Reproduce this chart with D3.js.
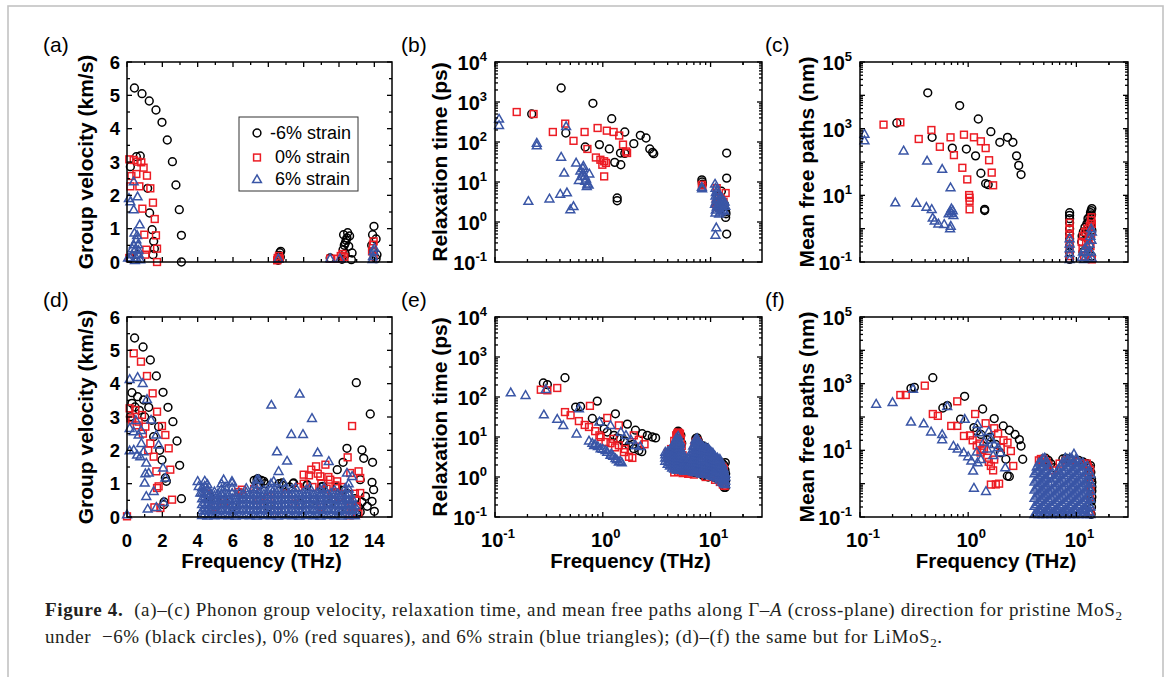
<!DOCTYPE html>
<html><head><meta charset="utf-8">
<script src="https://cdn.jsdelivr.net/npm/d3@7"></script>
<style>body{margin:0;background:#fff}svg{display:block}</style>
</head><body>
<svg id="chart" width="1167" height="677"></svg>
<script>
// ---------------- DATA ----------------
const seriesNames = ["-6% strain", " 0% strain", " 6% strain"];
const xTicksLin = [0,2,4,6,8,10,12,14];
const yTicksLin = [0,1,2,3,4,5,6];
const logExpTau = [-1,0,1,2,3,4];
const logExpMfp = [-1,1,3,5];
const logExpFreq = [-1,0,1];

// (a) group velocity, MoS2 [THz, km/s]
const a_m6 = [[0.42,5.22],[0.85,5.05],[1.26,4.83],[1.64,4.56],[1.98,4.19],[2.28,3.66],[2.57,3.01],[2.77,2.31],[2.96,1.57],[3.08,0.80],[3.08,0.0],
[0.53,3.16],[0.75,3.18],[0.19,2.86],[1.17,2.21],[1.28,1.47],[1.42,0.97],[1.51,0.62],[1.55,0.40],[1.47,0.22],[0.57,0.22],[0.19,0.12],
[8.55,0.05],[8.6,0.12],[8.62,0.2],[8.65,0.28],[8.7,0.32],[8.68,0.15],[11.5,0.12],
[12.17,0.08],[12.26,0.82],[12.45,0.72],[12.36,0.57],[12.55,0.47],[12.74,0.27],[12.23,0.37],[12.7,0.07],[12.49,0.88],[12.4,0.65],[12.3,0.5],[12.6,0.78],[12.35,0.25],
[13.98,1.07],[13.9,0.82],[14.1,0.69],[14.15,0.22],[14.1,0.1],[13.96,0.32],[13.85,0.5]];
const a_0 = [[0.13,3.08],[0.38,3.06],[0.6,3.01],[0.81,2.99],[0.94,2.83],[1.13,2.59],[0.53,2.64],[0.25,2.58],[0.19,2.27],[0.7,2.27],[1.32,2.21],[1.47,1.78],[0.87,1.6],[1.57,1.29],[1.64,0.8],[0.98,0.82],[1.09,0.37],[1.7,0.4],[1.7,0.0],[1.04,0.22],[0.13,0.12],
[8.5,0.05],[8.53,0.12],[8.6,0.18],[8.65,0.1],[11.5,0.1],[11.95,0.1],[12.1,0.18],[12.2,0.24],[12.3,0.15],
[13.92,0.52],[13.96,0.62],[13.87,0.32],[13.96,0.17]];
const a_p6 = [[0.38,2.41],[0.6,1.96],[0.11,1.91],[0.19,1.81],[0.38,1.57],[0.72,1.12],[0.42,0.87],[0.53,0.67],[0.62,0.52],[0.47,0.37],[0.68,0.22],[0.28,0.22],[0.19,0.12],[0.06,0.12],[0.53,0.12],[0.75,0.07],[0.38,0.52],[0.57,0.8],[0.45,0.05],[0.3,0.4],[0.65,0.35],
[8.57,0.1],[11.5,0.1],[12.06,0.1],[13.96,0.32],[13.92,0.17],[14.0,0.42],[13.9,0.08]];

// (b) relaxation time, MoS2 [THz, ps]
const b_m6 = [[0.411,2240],[0.219,501],[0.454,168],[0.81,926],[1.21,383],[1.6,178],[2.23,147],[2.52,126],[1.94,91],[2.73,67],[2.97,51],[0.93,86],[1.15,67],[0.687,75],[1.46,53],[1.29,31],[1.47,27],[1.36,4.0],[1.36,3.4],[1.6,52],[2.9,55],
[8.3,11.3],[8.35,10],[8.4,8.8],[14.1,53],[14.1,12.5],[13.8,1.3],[14.1,0.5],[12.6,5.9],[13.8,1.8],[13.4,2.8],[13.9,1.6],[12.0,4.5],[11.5,3.0]];
const b_0 = [[0.159,562],[0.228,501],[0.344,178],[0.448,288],[0.535,107],[0.678,178],[0.72,67],[0.895,224],[1.09,192],[1.26,178],[1.42,145],[1.54,86],[1.68,53],[1.65,58],[0.863,41],[0.95,36],[1.03,33],[0.99,27],[1.07,30],[1.03,13.8],
[8.3,8.5],[8.4,7.6],[11.4,7.0],[12.4,4.0],[13.8,5.3],[11.6,2.5],[11.2,2.8],[11.9,2.3],[13.2,3.2]];
const b_p6 = [[0.109,376],[0.109,261],[0.244,94],[0.244,81],[0.457,245],[0.411,42],[0.438,16.8],[0.566,30],[0.654,22],[0.654,17],[0.64,13.8],[0.687,10.5],[0.71,7.8],[0.62,19],[0.68,14],[0.7,12],[0.72,9],[0.66,25],[0.75,16],[0.74,8.5],[0.6,11],
[0.204,3.3],[0.32,3.8],[0.403,5.0],[0.465,5.4],[0.5,2.04],[0.535,2.45],[8.3,7.4],[8.35,6.8],
[11.0,8.9],[11.1,7.0],[11.2,5.5],[11.1,4.5],[11.3,3.8],[11.2,3.2],[11.0,2.8],[11.4,2.4],[11.2,2.0],[11.1,1.7],[11.5,6.2],[11.6,4.8],[11.8,3.5],[12.0,2.9],[12.2,2.2],[12.5,3.0],[12.7,4.0],[12.9,2.6],[13.1,3.4],[13.3,2.8],[13.5,3.2],[13.7,2.5],[13.4,1.9],[12.0,1.6],[11.7,2.6],[11.3,0.72],[11.1,0.47],[12.4,1.8],[13.0,2.0]];

// (c) mean free path, MoS2 [THz, nm]
const c_m6 = [[0.423,11900],[0.834,4940],[1.24,1950],[0.219,1480],[1.62,813],[2.31,550],[2.59,389],[1.96,389],[0.464,550],[0.713,261],[0.962,245],[1.17,153],[2.8,153],[2.93,79],[3.08,42],[1.31,46],[1.45,22.6],[1.53,21],[1.42,3.8],[1.42,3.5],
[8.66,3.0],[8.66,2.5],[8.66,2.0],[8.66,1.5],[8.66,1.0],[8.66,0.7],[8.66,0.5],[8.66,0.3],[8.66,0.2],[8.66,0.12],
[13.9,4.0],[13.7,3.5],[13.5,3.0],[13.8,2.6],[13.3,2.3],[12.8,2.0],[13.0,1.6],[12.5,1.4],[12.0,1.1],[11.6,0.8],[11.3,0.6],[11.2,0.4],[12.2,0.7],[13.6,1.4],[13.9,0.9],[12.7,0.5],[13.2,0.3],[11.5,0.2],[13.8,0.15]];
const c_0 = [[0.165,1320],[0.236,1550],[0.349,490],[0.457,912],[0.547,286],[0.687,550],[0.738,161],[0.914,660],[1.13,550],[1.31,417],[1.45,261],[1.56,113],[1.65,48],[1.7,20],[0.883,67],[0.98,30],[1.02,10.2],[1.03,8.5],[1.03,6.8],[1.03,3.8],
[8.66,1.5],[8.66,1.0],[8.66,0.7],[8.66,0.5],[8.66,0.35],[8.66,0.25],[8.66,0.15],
[13.8,2.2],[13.6,1.8],[13.9,1.4],[13.3,1.2],[12.6,1.0],[12.0,0.8],[11.5,0.6],[11.2,0.4],[11.4,0.25],[12.3,0.35],[13.0,0.5],[13.7,0.7],[12.8,0.2],[13.5,0.3],[11.8,0.15],[13.9,0.12]];
const c_p6 = [[0.11,690],[0.11,435],[0.253,217],[0.417,108],[0.575,61],[0.687,17],[0.212,6.0],[0.332,5.8],[0.411,4.4],[0.46,3.8],[0.47,2.1],[0.49,1.7],[0.53,1.4],[0.6,1.35],[0.69,1.2],[0.68,1.0],[0.687,3.3],[0.7,4.0],[0.72,3.5],[0.66,2.8],[0.73,2.5],[0.7,2.9],
[8.66,0.5],[8.66,0.35],[8.66,0.25],[8.66,0.18],[8.66,0.12],
[13.7,1.0],[13.9,0.8],[13.5,0.6],[13.8,0.45],[13.2,0.35],[12.5,0.3],[12.0,0.25],[11.5,0.2],[11.2,0.14],[12.8,0.2],[13.6,0.2],[13.0,0.13],[11.8,0.12],[13.9,0.13]];

// (d) group velocity, LiMoS2 [THz, km/s]
const d_m6 = [[0.43,5.37],[0.91,5.1],[1.32,4.71],[1.66,4.23],[2.04,3.74],[2.32,3.29],[2.6,2.86],[2.83,2.28],[2.98,1.55],[3.08,0.55],[0.28,3.73],[0.6,3.61],[0.94,3.51],[1.23,3.29],[0.28,3.41],[0.19,3.01],[1.79,2.71],[1.98,1.71],[2.17,1.17],[2.23,1.07],[2.08,0.37],[1.51,2.41],[0.45,3.3],[0.7,3.2],[1.0,3.0],[1.4,2.9],[1.85,2.0],[2.1,0.45],
[7.36,1.12],[7.74,1.07],[7.55,0.97],[8.77,1.02],[9.43,1.02],[10.2,0.97],[11.1,0.92],
[7.2,1.1],[7.4,1.15],[7.6,1.1],[7.5,0.95],[7.8,1.0],[8.6,1.0],[8.8,0.95],[9.4,1.0],[9.2,0.9],[10.2,0.95],[11.0,0.9],[11.9,0.9],[12.2,0.8],[12.5,0.7],[12.9,0.55],[13.1,0.3],[13.3,0.45],[13.2,0.15],[13.0,0.1],[6.5,0.7],[5.5,0.5],[4.7,0.6],[6.0,0.3],[8.0,0.3],[9.8,0.4],[10.6,0.5],[11.5,0.4],[12.0,0.2],
[12.98,4.03],[13.77,3.09],[12.23,1.64],[12.45,2.06],[13.3,2.01],[13.4,1.76],[13.9,1.64],[13.87,1.04],[13.96,0.82],[13.87,0.47],[14.0,0.17],[13.5,0.62],[13.6,0.32],[13.2,1.12],[11.9,1.42]];
const d_0 = [[0.38,4.91],[0.79,4.66],[1.13,4.23],[1.45,3.71],[1.7,3.16],[0.15,3.26],[0.47,3.21],[0.19,2.96],[0.66,2.86],[0.85,3.06],[1.04,2.71],[1.32,2.21],[1.51,1.81],[1.66,1.37],[1.7,0.87],[1.79,0.92],[1.98,2.73],[2.17,2.46],[2.36,2.06],[2.45,1.42],[2.55,0.52],[1.89,0.27],[1.55,0.29],[0.0,0.02],[0.3,2.9],[0.55,2.75],[0.9,2.5],[1.2,2.0],
[12.74,2.73],[12.49,1.79],[12.64,1.32],[13.11,1.37],[13.2,1.17],[13.2,0.72],[13.0,0.32],[12.74,0.12],[10.0,1.27],[10.43,1.42],[10.7,1.52],[11.23,1.57],[10.94,1.22],[11.5,1.12],[11.9,1.07],
[4.5,0.7],[5.0,0.3],[6.3,0.75],[6.5,0.82],[7.2,0.84],[8.0,0.6],[9.0,0.7],[9.7,0.9],[10.0,1.0],[10.3,1.25],[10.5,0.9],[11.0,1.0],[11.3,0.85],[11.6,0.7],[11.8,0.95],[12.0,0.6],[12.2,0.9],[12.4,0.5],[12.7,0.3],[12.9,0.7],[13.1,0.1],[13.0,0.5],[12.6,0.05],[11.0,0.3],[9.5,0.4],[8.5,0.2],[7.5,0.5],[5.5,0.4],[10.8,1.3],[11.4,1.2]];
const d_p6 = [[0.15,4.13],[0.6,4.19],[0.89,4.01],[1.13,3.53],[1.36,2.91],[1.66,2.46],[1.79,2.16],[2.04,1.47],[2.17,1.17],[0.15,2.66],[0.38,2.56],[0.66,2.46],[0.81,2.21],[0.94,1.96],[1.09,1.62],[1.23,1.32],[1.0,1.02],[1.09,0.62],[1.17,0.24],[0.15,1.99],[0.38,2.01],[0.57,1.86],[0.75,1.81],[1.04,1.3],[1.51,0.77],[1.66,0.29],[2.08,0.44],[0.0,0.07],[0.5,2.9],[0.8,2.6],
[8.17,3.36],[9.77,3.69],[10.47,2.96],[9.3,2.48],[9.96,2.48],[8.49,1.96],[9.06,1.68],[10.79,1.93],[8.58,1.37],[11.42,1.67],[12.45,1.32],[12.74,1.22],
[4.0,1.07],[4.06,0.92],[4.15,0.72],[5.47,1.12],[5.94,1.07],[7.45,1.12],[8.3,1.07],[8.87,1.02]];
// dense optical band of (d), 6% strain: [THz, [km/s ...]]
const d_p6_band = [
 [4.25,[0.05,0.2,0.38,0.55,0.72,0.88]],[4.4,[0.1,0.27,0.44,0.6,0.77,0.93,1.08]],[4.55,[0.03,0.18,0.35,0.52,0.68,0.84,0.98]],
 [4.75,[0.08,0.24,0.4,0.56,0.7]],[4.95,[0.04,0.19,0.34,0.5,0.64,0.76]],[5.15,[0.09,0.25,0.41,0.57,0.7]],
 [5.35,[0.05,0.2,0.36,0.52,0.68,0.84,1.0]],[5.55,[0.1,0.26,0.42,0.58,0.74,0.9]],[5.75,[0.04,0.2,0.36,0.52,0.66]],
 [5.95,[0.08,0.24,0.4,0.56,0.72,0.88,1.02]],[6.15,[0.03,0.19,0.35,0.5,0.64]],[6.35,[0.09,0.25,0.41,0.57,0.72]],
 [6.55,[0.05,0.21,0.37,0.52,0.68]],[6.75,[0.1,0.26,0.42,0.58,0.74,0.86]],[6.95,[0.04,0.2,0.36,0.52,0.66]],
 [7.15,[0.08,0.24,0.4,0.56,0.72,0.88]],[7.35,[0.03,0.19,0.35,0.5,0.66,0.82,0.98,1.12]],[7.55,[0.09,0.25,0.41,0.57,0.72]],
 [7.75,[0.05,0.21,0.37,0.52,0.68,0.8]],[7.95,[0.1,0.26,0.42,0.58,0.74]],[8.15,[0.04,0.2,0.36,0.52,0.68,0.84,1.0]],
 [8.35,[0.08,0.24,0.4,0.56,0.72,0.86]],[8.55,[0.03,0.19,0.35,0.5,0.66,0.8]],[8.75,[0.09,0.25,0.41,0.57,0.72]],
 [8.95,[0.05,0.21,0.37,0.52,0.68,0.84]],[9.15,[0.1,0.26,0.42,0.58,0.72]],[9.35,[0.04,0.2,0.36,0.52,0.68,0.84]],
 [9.55,[0.08,0.24,0.4,0.56,0.72,0.88]],[9.75,[0.03,0.19,0.35,0.5,0.66]],[9.95,[0.09,0.25,0.41,0.57,0.72]],
 [10.15,[0.05,0.21,0.37,0.52,0.68,0.82]],[10.35,[0.1,0.26,0.42,0.58,0.74,0.88]],[10.55,[0.04,0.2,0.36,0.52,0.66]],
 [10.75,[0.08,0.24,0.4,0.56,0.72]],[10.95,[0.03,0.19,0.35,0.5,0.66,0.82]],[11.15,[0.09,0.25,0.41,0.57,0.72,0.88]],
 [11.35,[0.05,0.21,0.37,0.52,0.68]],[11.55,[0.1,0.26,0.42,0.58,0.72]],[11.75,[0.04,0.2,0.36,0.52,0.66,0.8]],
 [11.95,[0.08,0.24,0.4,0.56,0.7]],[12.15,[0.03,0.19,0.35,0.5,0.64]],[12.35,[0.09,0.25,0.41,0.57,0.72,0.86]],
 [12.55,[0.05,0.21,0.37,0.52,0.68,0.84,1.0]],[12.75,[0.1,0.26,0.42,0.56]],[12.9,[0.04,0.2,0.34]]];

// (e) relaxation time, LiMoS2 [THz, ps]
const e_m6 = [[0.281,224],[0.306,204],[0.446,303],[0.56,56],[0.622,58],[0.889,79],[0.8,29],[1.31,38],[0.955,24],[1.69,21],[1.03,16],[2.01,14.8],[2.32,12.1],[2.59,11],[2.88,10],[3.09,9.5],[1.1,13.3],[1.27,11],[1.36,9.5],[1.57,7.5],[1.75,6.2],[1.94,5.1],[2.16,4.6],[2.3,4.3],[1.45,9],[1.6,8],[1.9,6.5],
[4.9,12.5],[5.1,13.0],[5.0,14.0],[5.3,11.0],[5.4,7.0],[7.3,9.2],[7.5,9.5],[7.4,8.5],[7.7,8.0],[8.0,6.5],[8.5,6.0],[9.0,5.5],[9.5,4.5],[10.0,4.0],[11.0,3.0],[12.0,2.5],[12.8,2.2],[13.3,2.0],[13.6,1.5],[13.7,1.0],[13.8,0.8],[13.8,1.2],[13.6,0.6],[13.7,0.55],[13.4,0.55],[13.0,0.7],[12.5,0.8],[6.0,1.4],[7.0,1.3],[8.5,1.1],[9.5,1.0],[10.5,1.0],[11.5,0.9],[4.5,3.0],[13.7,2.3]];
const e_0 = [[0.266,152],[0.306,147],[0.378,168],[0.446,42],[0.503,35],[0.76,60],[0.745,17.8],[0.93,11],[1.1,30],[0.955,10],[1.06,7.5],[1.18,7.0],[1.41,19.5],[1.41,6.2],[1.57,4.2],[1.75,3.2],[1.88,3.0],[1.94,11],[2.16,8.5],[2.44,6.6],[0.6,25],[0.68,20],[0.85,14],[1.25,9],[1.6,5],[1.3,5.5],
[4.0,4.0],[4.3,5.0],[4.6,8.0],[4.8,11.0],[5.0,13.0],[5.2,12.0],[4.9,12.0],[5.1,12.5],[5.0,11.0],[5.3,9.0],[5.4,6.0],[5.5,3.5],[5.6,2.0],[5.8,1.3],[6.0,1.6],[6.3,1.3],[6.6,1.5],[6.9,3.0],[7.1,6.0],[7.3,7.5],[7.5,8.0],[7.7,7.0],[8.0,5.0],[8.3,3.5],[8.6,1.3],[9.0,4.5],[9.3,1.2],[9.6,3.8],[10.0,1.2],[10.4,3.0],[10.8,1.5],[11.2,2.5],[11.6,1.3],[12.0,2.2],[12.4,1.0],[12.8,1.8],[13.1,0.8],[13.3,1.6],[13.5,0.7],[4.9,1.5],[8.8,1.2],
[4.6,1.3],[5.0,1.35],[5.5,1.25],[6.2,1.2],[7.0,1.15],[9.0,1.0],[11.0,0.85],[12.2,0.75],[13.0,0.65],[13.5,0.6]];
const e_p6 = [[0.14,128],[0.192,110],[0.296,155],[0.284,36],[0.378,28],[0.43,19.5],[0.571,12],[0.601,51],[0.745,8],[0.83,6.2],[0.93,24],[0.955,5.1],[1.06,4.6],[1.18,19.5],[1.18,3.5],[1.31,2.9],[1.41,2.4],[1.47,13.3],[1.64,11],[1.82,8.5],[2.01,6.2],[2.23,5.8],[0.8,7],[0.85,6.5],[0.9,5.8],[1.0,5.0],[1.1,4.2],[1.2,3.8],[1.25,3.3],[1.35,2.7],[1.45,2.5],[1.5,2.3]];
// dense optical blob of (e), 6% strain: [THz, [ps ...]]
const e_p6_blob = [
 [3.8,[2.5,3.0,3.6,4.2]],[4.0,[2.1,2.5,3.0,3.6,4.3]],[4.2,[1.9,2.3,2.8,3.3,4.0,4.8]],
 [4.4,[1.7,2.0,2.4,2.9,3.5,4.2,5.0,5.8]],[4.6,[1.6,1.9,2.3,2.8,3.3,4.0,4.8,5.8,7.0]],
 [4.8,[1.5,1.8,2.2,2.6,3.1,3.7,4.5,5.4,6.5,7.8,9.2]],[5.0,[1.5,1.8,2.1,2.5,3.0,3.6,4.3,5.2,6.2,7.4,8.8,10.5]],
 [5.2,[1.5,1.8,2.2,2.6,3.1,3.8,4.5,5.4,6.5,7.6]],[5.4,[1.5,1.8,2.1,2.6,3.1,3.7,4.4]],
 [5.7,[1.4,1.7,2.0,2.4,2.9]],[6.0,[1.4,1.7,2.0,2.5]],[6.3,[1.4,1.7,2.0,2.4,2.9]],
 [6.6,[1.4,1.7,2.0,2.4,2.9,3.5,4.2]],[6.9,[1.35,1.6,1.9,2.3,2.8,3.4,4.1,5.0,6.0]],
 [7.2,[1.3,1.6,1.9,2.3,2.8,3.4,4.1,5.0,6.0,7.2,8.5]],[7.5,[1.3,1.6,1.9,2.3,2.8,3.4,4.1,5.0,6.0,7.2,8.5,9.2]],
 [7.8,[1.3,1.55,1.9,2.3,2.8,3.4,4.1,5.0,6.0,7.2]],[8.2,[1.2,1.5,1.8,2.2,2.7,3.3,4.0,4.8,5.8,6.5]],
 [8.6,[1.2,1.5,1.8,2.2,2.7,3.3,4.0,4.8,5.6]],[9.0,[1.2,1.45,1.8,2.2,2.7,3.3,4.0,4.8,5.5]],
 [9.5,[1.15,1.4,1.7,2.1,2.6,3.2,3.9,4.7,5.2]],[10.0,[1.1,1.35,1.65,2.0,2.5,3.0,3.7,4.4]],
 [10.5,[1.05,1.3,1.6,1.95,2.4,2.9,3.5,4.0]],[11.0,[1.0,1.25,1.55,1.9,2.3,2.8,3.3]],
 [11.6,[0.95,1.2,1.45,1.8,2.2,2.6,3.0]],[12.2,[0.85,1.05,1.3,1.6,2.0,2.4,2.8]],
 [12.8,[0.75,0.95,1.15,1.4,1.75,2.1]],[13.3,[0.7,0.85,1.05,1.3,1.6]],[13.7,[0.65,0.8,1.0,1.2]]];

// (f) mean free path, LiMoS2 [THz, nm]
const f_m6 = [[0.296,724],[0.318,776],[0.471,1510],[0.583,186],[0.641,219],[0.927,417],[1.36,174],[0.851,86],[1.74,90],[2.11,54],[2.4,40],[2.71,30],[2.97,21],[3.08,13.5],[1.13,48],[1.31,30],[1.5,21],[1.8,15],[1.98,8.5],[3.19,5.4],[2.23,5.4],[2.3,1.7],[2.4,1.65],[1.6,25],[1.2,38],
[4.9,5.5],[5.2,5.8],[5.5,5.0],[5.8,4.0],[7.5,5.5],[8.0,5.8],[8.5,5.5],[9.0,5.2],[10.5,5.0],[11.5,4.5],[12.5,4.0],[13.3,3.0],[13.6,2.2],[13.8,1.4],[13.9,0.8],[13.9,0.4],[13.8,0.2],[13.7,0.12],[6.2,3.0],[13.5,3.5],[13.9,0.6],[13.9,1.1],[13.8,0.3]];
const f_0 = [[0.236,457],[0.265,457],[0.397,871],[0.471,123],[0.524,108],[0.792,295],[1.16,123],[0.697,54],[0.792,54],[0.914,27],[1.04,28],[1.28,16],[1.45,65],[1.74,46],[1.89,32],[2.12,20],[2.31,17],[2.48,9.5],[2.61,3.4],[1.62,0.94],[1.8,0.95],[1.93,1.0],[1.62,3.4],[1.74,5.3],[1.3,8.6],[1.4,11],[1.1,20],[1.5,6],[1.2,14],[1.35,10],[1.55,4.5],[1.7,2.5],[2.0,12],
[4.5,5.0],[4.7,5.5],[5.0,5.5],[5.3,4.5],[5.5,3.5],[12.5,4.0],[12.8,3.2],[13.0,2.0],[13.3,1.0],[13.4,0.4],[13.5,0.15],[6.0,2.5],[11.5,4.0],[10.0,4.5],[9.0,5.0],[8.0,5.0],[7.0,4.0],[13.4,2.6],[13.5,0.7]];
const f_p6 = [[0.141,244],[0.2,275],[0.309,690],[0.296,71],[0.388,63],[0.454,36],[0.575,30],[0.575,21],[0.64,209],[0.73,13.4],[0.93,86],[0.91,8.5],[1.07,4.8],[1.11,2.4],[1.13,0.74],[1.46,0.59],[1.22,60],[1.27,34],[1.55,37],[1.62,21],[1.74,15],[1.89,12],[1.99,8.5],[2.2,3.0],[1.31,5.3],[1.22,4.3],[0.8,11],[1.0,6.5],[1.4,18],[1.5,11],[1.7,7],[1.2,9]];
// dense optical blob of (f), 6% strain: [THz, [nm ...]]
const f_p6_blob = [
 [4.1,[0.12,0.21,0.37,0.65,1.13,2.0]],[4.3,[0.14,0.24,0.43,0.75,1.3,2.3,3.2]],
 [4.5,[0.12,0.16,0.28,0.49,0.86,1.5,2.6,4.2]],[4.7,[0.14,0.18,0.32,0.57,1.0,1.75,3.0,4.5]],
 [4.9,[0.12,0.21,0.37,0.65,1.13,2.0,3.4,5.6]],[5.1,[0.14,0.24,0.43,0.75,1.3,2.3,4.0,5.9]],
 [5.3,[0.12,0.16,0.28,0.49,0.86,1.5,2.6,4.5]],[5.6,[0.14,0.18,0.32,0.57,1.0,1.75,3.2]],
 [5.9,[0.12,0.21,0.37,0.65,1.13,1.9]],[6.2,[0.14,0.24,0.43,0.75,1.4]],
 [6.5,[0.12,0.16,0.28,0.49,0.86,1.5,2.0]],[6.8,[0.14,0.18,0.32,0.57,1.0,1.75,2.6]],
 [7.1,[0.12,0.21,0.37,0.65,1.13,2.0,3.4]],[7.5,[0.14,0.24,0.43,0.75,1.3,2.3,4.2]],
 [7.9,[0.12,0.16,0.28,0.49,0.86,1.5,2.6,4.5,5.9]],[8.3,[0.14,0.18,0.32,0.57,1.0,1.75,3.0,5.2]],
 [8.7,[0.12,0.21,0.37,0.65,1.13,2.0,3.4,5.9]],[9.1,[0.14,0.24,0.43,0.75,1.3,2.3,4.0,5.6]],
 [9.5,[0.12,0.16,0.28,0.49,0.86,1.5,2.6,4.5,7.8]],[9.9,[0.14,0.18,0.32,0.57,1.0,1.75,3.0,5.5]],
 [10.4,[0.12,0.21,0.37,0.65,1.13,2.0,3.4,4.5]],[10.9,[0.14,0.24,0.43,0.75,1.3,2.3,4.0]],
 [11.4,[0.12,0.16,0.28,0.49,0.86,1.5,2.6,4.3]],[12.0,[0.14,0.18,0.32,0.57,1.0,1.75,3.2]],
 [12.6,[0.12,0.21,0.37,0.65,1.13,2.0,3.4]],[13.1,[0.14,0.24,0.43,0.75,1.3,2.4]],[13.5,[0.12,0.2,0.35,0.6,1.05,1.9]]];

// ---------------- DRAWING ----------------
const expand = cols => cols.flatMap(([f, vs]) => vs.map(v => [f, v]));
const FONT = "'Liberation Sans', Arial, sans-serif";
const COLORS = ["#000000", "#ec1c24", "#3a56a6"];
const svg = d3.select("#chart");
svg.append("rect").attr("width",1167).attr("height",677).attr("fill","#fff");
svg.append("rect").attr("x",8).attr("y",6).attr("width",1155).attr("height",720)
  .attr("fill","none").attr("stroke","#c2c2c2").attr("stroke-width",1.6);

const panels = [
  {lab:"(a)", lx:43, ly:52, data:[a_m6,a_0,a_p6], L:127,R:392,T:62,B:262, log:false, ydom:[0,6], ytitle:"Group velocity (km/s)", xlabels:false, tx:85},
  {lab:"(b)", lx:401, ly:52, data:[b_m6,b_0,b_p6], L:495,R:762,T:62,B:262, log:true, ydom:[0.1,1e4], yexp:logExpTau, ytitle:"Relaxation time (ps)", xlabels:false, tx:439},
  {lab:"(c)", lx:765, ly:52, data:[c_m6,c_0,c_p6], L:860,R:1128,T:62,B:262, log:true, ydom:[0.1,1e5], yexp:logExpMfp, ytitle:"Mean free paths (nm)", xlabels:false, tx:806},
  {lab:"(d)", lx:43, ly:307, data:[d_m6,d_0,d_p6.concat(expand(d_p6_band))], L:127,R:392,T:317,B:517, log:false, ydom:[0,6], ytitle:"Group velocity (km/s)", xlabels:true, tx:85},
  {lab:"(e)", lx:401, ly:307, data:[e_m6,e_0,e_p6.concat(expand(e_p6_blob))], L:495,R:762,T:317,B:517, log:true, ydom:[0.1,1e4], yexp:logExpTau, ytitle:"Relaxation time (ps)", xlabels:true, tx:439},
  {lab:"(f)", lx:765, ly:307, data:[f_m6,f_0,f_p6.concat(expand(f_p6_blob))], L:860,R:1128,T:317,B:517, log:true, ydom:[0.1,1e5], yexp:logExpMfp, ytitle:"Mean free paths (nm)", xlabels:true, tx:806}
];

function marker(g, type, x, y, color) {
  if (type === 0) {
    g.append("circle").attr("cx",x).attr("cy",y).attr("r",3.9)
      .attr("fill","none").attr("stroke",color).attr("stroke-width",1.5);
  } else if (type === 1) {
    g.append("rect").attr("x",x-3.4).attr("y",y-3.4).attr("width",6.8).attr("height",6.8)
      .attr("fill","none").attr("stroke",color).attr("stroke-width",1.5);
  } else {
    g.append("path").attr("transform",`translate(${x},${y})`)
      .attr("d","M0,-4.6L4.4,3.1L-4.4,3.1Z")
      .attr("fill","none").attr("stroke",color).attr("stroke-width",1.5);
  }
}

function logLabel(g, x, y, exp, anchor) {
  const t = g.append("text").attr("x",x).attr("y",y).attr("text-anchor",anchor)
    .attr("font-family",FONT).attr("font-weight","bold").attr("font-size",20).attr("fill","#000");
  t.append("tspan").text("10");
  t.append("tspan").attr("dy",-9).attr("font-size",13).text(String(exp));
}

panels.forEach(p => {
  const g = svg.append("g");
  const sx = p.log ? d3.scaleLog().domain([0.1,30]).range([p.L,p.R]) : d3.scaleLinear().domain([0,15]).range([p.L,p.R]);
  const sy = p.log ? d3.scaleLog().domain(p.ydom).range([p.B,p.T]) : d3.scaleLinear().domain(p.ydom).range([p.B,p.T]);

  p.data.forEach((ser, si) => {
    const mg = g.append("g");
    ser.forEach(d => marker(mg, si, sx(d[0]), sy(d[1]), COLORS[si]));
  });

  g.append("rect").attr("x",p.L).attr("y",p.T).attr("width",p.R-p.L).attr("height",p.B-p.T)
    .attr("fill","none").attr("stroke","#000").attr("stroke-width",1.5);

  const tk = g.append("g").attr("stroke","#000").attr("stroke-width",1.3);
  const tick = (x1,y1,x2,y2) => tk.append("line").attr("x1",x1).attr("y1",y1).attr("x2",x2).attr("y2",y2);
  const MAJ = 5, MIN = 3;

  let xMaj, xMin;
  if (p.log) {
    xMaj = [0.1,1,10];
    xMin = [];
    [0.1,1,10].forEach(b => { for (let m=2;m<=9;m++) if (m*b < 30) xMin.push(m*b); });
    xMin.push(20);
  } else {
    xMaj = xTicksLin;
    xMin = d3.range(1,15,2);
  }
  xMaj.forEach(v => { const x=sx(v); tick(x,p.B,x,p.B-MAJ); tick(x,p.T,x,p.T+MAJ); });
  xMin.forEach(v => { const x=sx(v); tick(x,p.B,x,p.B-MIN); tick(x,p.T,x,p.T+MIN); });

  let yMaj, yMin;
  if (p.log) {
    const e0 = Math.round(Math.log10(p.ydom[0])), e1 = Math.round(Math.log10(p.ydom[1]));
    yMaj = d3.range(e0, e1+1).map(e => Math.pow(10,e));
    yMin = [];
    d3.range(e0, e1).forEach(e => { for (let m=2;m<=9;m++) yMin.push(m*Math.pow(10,e)); });
  } else {
    yMaj = yTicksLin;
    yMin = d3.range(0.5,6,1);
  }
  yMaj.forEach(v => { const y=sy(v); tick(p.L,y,p.L+MAJ,y); tick(p.R,y,p.R-MAJ,y); });
  yMin.forEach(v => { const y=sy(v); tick(p.L,y,p.L+MIN,y); tick(p.R,y,p.R-MIN,y); });

  if (p.log) {
    p.yexp.forEach(e => logLabel(g, p.L-8, sy(Math.pow(10,e))+8, e, "end"));
  } else {
    yTicksLin.forEach(v => g.append("text").attr("x",p.L-7).attr("y",sy(v)).attr("dy","0.36em")
      .attr("text-anchor","end").attr("font-family",FONT).attr("font-weight","bold").attr("font-size",18.5).text(v));
  }
  if (p.xlabels) {
    if (p.log) {
      logExpFreq.forEach(e => logLabel(g, sx(Math.pow(10,e))+3, p.B+30, e, "middle"));
    } else {
      xTicksLin.forEach(v => g.append("text").attr("x",sx(v)).attr("y",p.B+30)
        .attr("text-anchor","middle").attr("font-family",FONT).attr("font-weight","bold").attr("font-size",18.5).text(v));
    }
    g.append("text").attr("x",(p.L+p.R)/2+2).attr("y",p.B+51).attr("text-anchor","middle")
      .attr("font-family",FONT).attr("font-weight","bold").attr("font-size",20.5).text("Frequency (THz)");
  }
  g.append("text").attr("transform",`translate(${p.tx},${(p.T+p.B)/2}) rotate(-90)`)
    .attr("dy","0.36em").attr("text-anchor","middle")
    .attr("font-family",FONT).attr("font-weight","bold").attr("font-size",21).text(p.ytitle);
  g.append("text").attr("x",p.lx).attr("y",p.ly).attr("font-family",FONT).attr("font-size",21).text(p.lab);
});

// legend in (a)
const lg = svg.append("g");
lg.append("rect").attr("x",239).attr("y",117).attr("width",119).attr("height",74)
  .attr("fill","#fff").attr("stroke","#333").attr("stroke-width",1);
const legY = [133, 157.5, 179.5];
const legTY = [139, 163, 185];
seriesNames.forEach((n,i) => {
  marker(lg, i, 257, legY[i], COLORS[i]);
  lg.append("text").attr("x",270).attr("y",legTY[i]).style("white-space","pre")
    .attr("font-family",FONT).attr("font-size",18).text(n);
});

// caption
const CF = "'Liberation Serif', 'Times New Roman', serif";
const c1 = svg.append("text").attr("x",45).attr("y",616).attr("font-family",CF).attr("font-size",19)
  .attr("textLength",1077).attr("lengthAdjust","spacing").attr("fill","#231f20");
c1.append("tspan").attr("font-weight","bold").text("Figure 4.");
c1.append("tspan").text("\u00a0\u00a0(a)–(c) Phonon group velocity, relaxation time, and mean free paths along Γ–");
c1.append("tspan").attr("font-style","italic").text("A");
c1.append("tspan").text(" (cross-plane) direction for pristine MoS");
c1.append("tspan").attr("dy",4).attr("font-size",13).text("2");

const c2 = svg.append("text").attr("x",45).attr("y",643).attr("font-family",CF).attr("font-size",19)
  .attr("textLength",897).attr("lengthAdjust","spacing").attr("fill","#231f20");
c2.append("tspan").text("under \u00a0−6% (black circles), 0% (red squares), and 6% strain (blue triangles); (d)–(f) the same but for LiMoS");
c2.append("tspan").attr("dy",4).attr("font-size",13).text("2");
c2.append("tspan").attr("dy",-4).text(".");
</script>
</body></html>
